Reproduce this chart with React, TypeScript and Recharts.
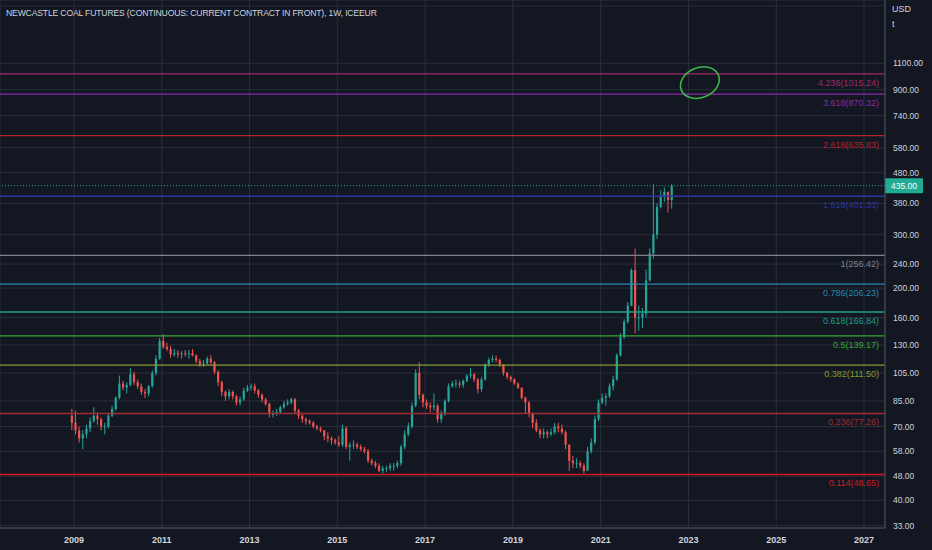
import React from 'react';
import { ComposedChart, Bar, XAxis, YAxis, CartesianGrid, ReferenceLine, ReferenceDot } from 'recharts';

const title = 'NEWCASTLE COAL FUTURES (CONTINUOUS: CURRENT CONTRACT IN FRONT), 1W, ICEEUR';

// monthly candles, first one is Dec 2008; open = previous close
const firstMonth = { year: 2008, month: 12 };
const firstOpen = 76;

const closes = [
  72,
  68, 64, 66, 69, 73, 76, 74, 70, 70, 76, 80, 87,
  97, 94, 96, 104, 98, 95, 91, 90, 95, 105, 117, 134,
  128, 126, 121, 122, 121, 122, 121, 122, 120, 115, 112, 113,
  117, 114, 106, 98, 91, 88, 91, 88, 84, 86, 92, 94,
  95, 92, 89, 86, 83, 77, 77, 78, 81, 83, 84, 86,
  79, 76, 74, 73, 72, 70, 69, 68, 65, 64, 63, 62,
  61, 69, 60, 61, 61, 60, 59, 58, 54, 53, 52, 50,
  51, 51, 52, 52, 53, 60, 66, 70, 82, 105, 89, 84,
  82, 81, 82, 74, 77, 85, 95, 97, 97, 96, 99, 103,
  104, 100, 93, 100, 112, 116, 117, 116, 112, 105, 102, 100,
  97, 94, 87, 84, 77, 72, 68, 66, 67, 66, 67, 70,
  69, 67, 61, 54, 53, 53, 52, 50, 58, 62, 74, 84,
  87, 88, 95, 100, 120, 138, 155, 175, 229, 160, 160, 165,
  212, 260, 300, 370, 400, 415, 390, 435,
];

const highs = [
  80,
  79, 70, 68, 71, 75, 81, 78, 75, 72, 77, 82, 88,
  103, 99, 98, 109, 106, 100, 97, 93, 96, 107, 120, 137,
  141, 132, 129, 126, 125, 124, 125, 125, 126, 121, 117, 116,
  119, 120, 115, 107, 99, 92, 93, 92, 89, 88, 94, 96,
  97, 97, 93, 90, 87, 84, 79, 80, 82, 85, 86, 87,
  87, 80, 77, 75, 74, 73, 71, 70, 68, 67, 65, 64,
  65, 71, 70, 62, 63, 62, 61, 60, 59, 55, 54, 53,
  52, 52, 53, 53, 54, 61, 68, 72, 84, 108, 114, 90,
  86, 84, 90, 83, 79, 86, 97, 99, 100, 99, 100, 104,
  109, 105, 101, 102, 113, 118, 120, 120, 117, 112, 106, 103,
  101, 98, 94, 88, 85, 78, 74, 69, 69, 68, 69, 72,
  72, 71, 68, 61, 56, 55, 54, 53, 60, 64, 76, 86,
  90, 90, 97, 103, 122, 142, 158, 180, 232, 270, 175, 172,
  230, 270, 440, 380, 420, 430, 415, 440,
];

const lows = [
  68,
  66, 62, 59, 64, 67, 72, 71, 68, 66, 69, 75, 79,
  86, 92, 90, 95, 96, 93, 89, 87, 88, 94, 103, 116,
  126, 124, 118, 119, 118, 117, 119, 117, 119, 113, 110, 110,
  112, 112, 104, 95, 88, 85, 86, 86, 82, 82, 85, 91,
  92, 90, 87, 84, 82, 75, 75, 76, 77, 80, 82, 83,
  77, 74, 72, 71, 71, 69, 68, 67, 63, 62, 61, 61,
  60, 60, 59, 54, 59, 59, 58, 57, 53, 52, 51, 49.5,
  49, 49.5, 50, 50, 51, 52, 59, 65, 69, 81, 86, 81,
  80, 78, 79, 72, 72, 76, 84, 94, 94, 94, 94, 98,
  101, 98, 90, 91, 99, 110, 114, 114, 110, 103, 100, 98,
  96, 93, 86, 77, 75, 69, 67, 64, 64, 64, 65, 66,
  67, 66, 59, 50, 51, 51, 51, 49, 50, 57, 61, 73,
  83, 82, 87, 92, 99, 119, 136, 153, 175, 142, 145, 148,
  160, 210, 250, 290, 366, 385, 355, 365,
];

const yearTicks = [2009, 2011, 2013, 2015, 2017, 2019, 2021, 2023, 2025, 2027];
const priceTicks = [33, 40, 48, 58, 70, 85, 105, 130, 160, 200, 240, 300, 380, 480, 580, 740, 900, 1100, 1400, 1700];
const hiddenPriceTicks = [1400, 1700];

const fibRatios = ['4.236', '3.618', '2.618', '1.618', '1', '0.786', '0.618', '0.5', '0.382', '0.236', '0.114'];
const fibPrices = [1015.24, 870.32, 635.83, 401.33, 256.42, 206.23, 166.84, 139.17, 111.5, 77.26, 48.65];
const fibColors = ['#a02a6c', '#8a2ca8', '#b3222b', '#2c34a6', '#80828a', '#2b86b0', '#22a086', '#3aa636', '#8a9a30', '#9e2d35', '#d4161d'];

const lastPrice = 435;
const markYear = 2023.26;
const markPrice = 950;

const UP = '#26a69a';
const DOWN = '#ef5350';
const BG = '#131722';
const GRID = '#2a2e3a';
const TEXT = '#d1d4dc';
const FONT = '"Liberation Sans", Arial, sans-serif';

const candles = closes.map((close, i) => {
  const m = firstMonth.month - 1 + i;
  const year = firstMonth.year + Math.floor(m / 12);
  const month = m % 12;
  const open = i === 0 ? firstOpen : closes[i - 1];
  return {
    t: year + (month + 0.5) / 12,
    open,
    close,
    high: highs[i],
    low: lows[i],
    range: [lows[i], highs[i]],
  };
});

// draws one candle inside the range bar; log scale so interpolate in log space
const Candle = (props: any) => {
  const { x, y, width, height, payload } = props;
  if (x == null || y == null || !payload) return null;
  const top = Math.min(y, y + height);
  const h = Math.abs(height);
  const { open, close, high, low } = payload;
  const lh = Math.log(high);
  const ll = Math.log(low);
  const py = (p: number) => top + (h * (lh - Math.log(p))) / (lh - ll);
  const cx = x + width / 2;
  const color = close >= open ? UP : DOWN;
  const bTop = py(Math.max(open, close));
  const bBot = py(Math.min(open, close));
  return (
    <g>
      <line x1={cx} x2={cx} y1={top} y2={top + h} stroke={color} strokeWidth={1} />
      <rect x={cx - 1.1} y={bTop} width={2.2} height={Math.max(bBot - bTop, 0.8)} fill={color} />
    </g>
  );
};

const PriceTick = (props: any) => {
  const { x, y, payload } = props;
  if (hiddenPriceTicks.includes(payload.value)) return null;
  return (
    <text x={x} y={y} dy={3} textAnchor="start" fill={TEXT} fontSize={8.5} fontFamily={FONT}>
      {payload.value.toFixed(2)}
    </text>
  );
};

const YearTick = (props: any) => {
  const { x, y, payload } = props;
  return (
    <text x={x} y={y} dy={7} textAnchor="middle" fill={TEXT} fontSize={9} fontWeight="bold" fontFamily={FONT}>
      {payload.value}
    </text>
  );
};

const fibLabel = (text: string, color: string) => (props: any) => {
  const vb = props.viewBox;
  return (
    <text x={vb.x + vb.width - 6} y={vb.y + 9} dy={3} textAnchor="end" fill={color} fontSize={9} fontFamily={FONT}>
      {text}
    </text>
  );
};

const lastPriceLabel = (props: any) => {
  const vb = props.viewBox;
  const x0 = vb.x + vb.width;
  return (
    <g>
      <rect x={x0} y={vb.y - 7.5} width={38} height={15} rx={1} fill="#22ab94" />
      <text x={x0 + 19} y={vb.y} dy={3} textAnchor="middle" fill="#ffffff" fontSize={8.5} fontFamily={FONT}>
        {lastPrice.toFixed(2)}
      </text>
    </g>
  );
};

const Mark = (props: any) => {
  const { cx, cy } = props;
  return (
    <ellipse cx={cx} cy={cy} rx={20} ry={15} transform={`rotate(-22 ${cx} ${cy})`} fill="none" stroke="#3db54a" strokeWidth={1.6} />
  );
};

export default function App() {
  return (
    <div style={{ position: 'absolute', left: 0, top: 0, width: 932, height: 550, background: BG, fontFamily: FONT, overflow: 'hidden' }}>
      <ComposedChart width={932} height={550} data={candles} margin={{ top: 0, right: 0, bottom: 0, left: 0 }}>
        <CartesianGrid stroke={GRID} strokeWidth={1} />
        <XAxis
          type="number"
          dataKey="t"
          domain={[2007.314, 2027.478]}
          allowDataOverflow
          ticks={yearTicks}
          height={22}
          tickLine={false}
          axisLine={{ stroke: '#4a4e5a' }}
          tick={<YearTick />}
        />
        <YAxis
          orientation="right"
          scale="log"
          domain={[32.42, 1778]}
          allowDataOverflow
          ticks={priceTicks}
          width={47}
          tickLine={false}
          axisLine={{ stroke: '#4a4e5a' }}
          tick={<PriceTick />}
        />
        {fibPrices.map((p, i) => (
          <ReferenceLine
            key={fibRatios[i]}
            y={p}
            stroke={fibColors[i]}
            strokeWidth={1.3}
            label={fibLabel(`${fibRatios[i]}(${p.toFixed(2)})`, fibColors[i])}
          />
        ))}
        <ReferenceLine y={lastPrice} stroke={UP} strokeDasharray="1 2" label={lastPriceLabel} />
        <Bar dataKey="range" barSize={3} shape={<Candle />} isAnimationActive={false} />
        <ReferenceDot x={markYear} y={markPrice} shape={<Mark />} />
      </ComposedChart>
      <div style={{ position: 'absolute', left: 6, top: 8, fontSize: 8.6, letterSpacing: -0.15, color: TEXT, whiteSpace: 'nowrap' }}>{title}</div>
      <div style={{ position: 'absolute', left: 892, top: 4, fontSize: 9, color: TEXT, background: BG }}>USD</div>
      <div style={{ position: 'absolute', left: 892, top: 19, fontSize: 9, color: TEXT, background: BG, width: 40 }}>t</div>
    </div>
  );
}
